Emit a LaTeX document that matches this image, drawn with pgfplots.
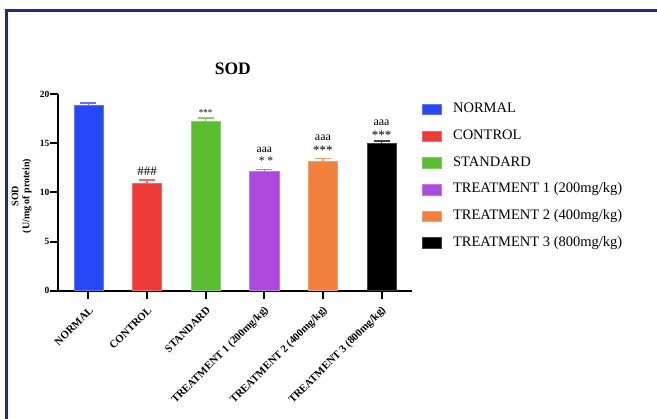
\documentclass[border=0pt]{standalone}
\usepackage{fontspec}
\setmainfont{Liberation Serif}
\usepackage{pgfplots}
\pgfplotsset{compat=1.18}
\definecolor{cblue}{RGB}{38,72,245}
\definecolor{cred}{RGB}{238,58,55}
\definecolor{cgreen}{RGB}{90,190,50}
\definecolor{cpurple}{RGB}{174,72,223}
\definecolor{corange}{RGB}{240,128,60}
\definecolor{cblack}{RGB}{0,0,0}
\definecolor{frameblue}{RGB}{28,42,140}
\pgfplotsset{
  mybar/.style={ybar, bar width=0.5, bar shift=0pt, fill=#1, draw=#1!75!white, line width=0.6bp,
    error bars/.cd, y dir=plus, y explicit,
    error bar style={line width=1.4bp, #1!75!white},
    error mark options={line width=1.4bp, #1!75!white, mark size=8bp, rotate=90}},
}
\begin{document}
\begin{tikzpicture}
\useasboundingbox (0,0) rectangle (657bp,419bp);
\draw[frameblue, line width=2.5bp] (6.3bp,0) -- (6.3bp,408.7bp) -- (657bp,408.7bp);
\begin{axis}[
  scale only axis, width=354bp, height=196.7bp,
  at={(58bp,128.3bp)}, anchor=south west,
  xmin=-0.52, xmax=5.52, ymin=0, ymax=20,
  axis x line*=bottom, axis y line*=left,
  axis line style={line width=2bp, -},
  ytick={0,5,10,15,20}, xtick={0,...,5},
  xticklabels={NORMAL,CONTROL,STANDARD,TREATMENT 1 (200mg/kg),TREATMENT 2 (400mg/kg),TREATMENT 3 (800mg/kg)},
  tick align=outside, major tick length=8bp,
  tick style={line width=2bp, black},
  /pgf/number format/assume math mode=true,
  yticklabel style={font=\fontsize{9.5bp}{10bp}\selectfont\bfseries, xshift=3bp},
  xticklabel style={rotate=45, anchor=east, font=\fontsize{10.8bp}{11bp}\selectfont\bfseries, inner sep=0pt, xshift=-5bp, yshift=-9bp},
  ylabel={SOD\\(U/mg of protein)},
  ylabel style={align=center, font=\fontsize{10bp}{11bp}\selectfont\bfseries, at={(axis description cs:-0.1025,0.481)}, anchor=center},
  title={SOD},
  title style={font=\fontsize{17.5bp}{18bp}\selectfont\bfseries, at={(axis description cs:0.494,1.096)}, anchor=center},
  legend image code/.code={\draw[#1, line width=0.5bp] (0bp,-5.3bp) rectangle (19bp,5.3bp);},
  legend cell align=left,
  legend style={draw=none, fill=none, at={(1.0274,0.956)}, anchor=north west,
    font=\fontsize{14.5bp}{17bp}\selectfont, row sep=13.7bp, column sep=0bp, inner sep=0pt,
    nodes={inner sep=0pt, text height=10bp, text depth=3bp}},
  clip=false,
]
\addplot[mybar=cblue] coordinates {(0,18.9) +- (0,0.17)};
\addlegendentry{\hspace{11.7bp}NORMAL}
\addplot[mybar=cred] coordinates {(1,10.97) +- (0,0.27)};
\addlegendentry{\hspace{11.7bp}CONTROL}
\addplot[mybar=cgreen] coordinates {(2,17.25) +- (0,0.32)};
\addlegendentry{\hspace{11.7bp}STANDARD}
\addplot[mybar=cpurple] coordinates {(3,12.1) +- (0,0.24)};
\addlegendentry{\hspace{11.7bp}TREATMENT 1 (200mg/kg)}
\addplot[mybar=corange] coordinates {(4,13.2) +- (0,0.24)};
\addlegendentry{\hspace{11.7bp}TREATMENT 2 (400mg/kg)}
\addplot[mybar=cblack] coordinates {(5,15.0) +- (0,0.23)};
\addlegendentry{\hspace{11.7bp}TREATMENT 3 (800mg/kg)}
\node[anchor=base, font=\fontsize{13bp}{13bp}\selectfont] at (axis cs:1,11.75) {\#\#\#};
\node[anchor=base, font=\fontsize{9bp}{9bp}\selectfont] at (axis cs:2,17.81) {***};
\node[anchor=base, font=\fontsize{11.5bp}{12bp}\selectfont] at (axis cs:3,14.04) {aaa};
\node[anchor=base, font=\fontsize{11.5bp}{12bp}\selectfont] at (axis cs:3.03,12.86) {* *};
\node[anchor=base, font=\fontsize{12bp}{12bp}\selectfont] at (axis cs:4,15.26) {aaa};
\node[anchor=base, font=\fontsize{13bp}{13bp}\selectfont] at (axis cs:4,13.8) {***};
\node[anchor=base, font=\fontsize{12bp}{12bp}\selectfont] at (axis cs:5,16.79) {aaa};
\node[anchor=base, font=\fontsize{13bp}{13bp}\selectfont] at (axis cs:5,15.38) {***};
\end{axis}
\end{tikzpicture}
\end{document}
